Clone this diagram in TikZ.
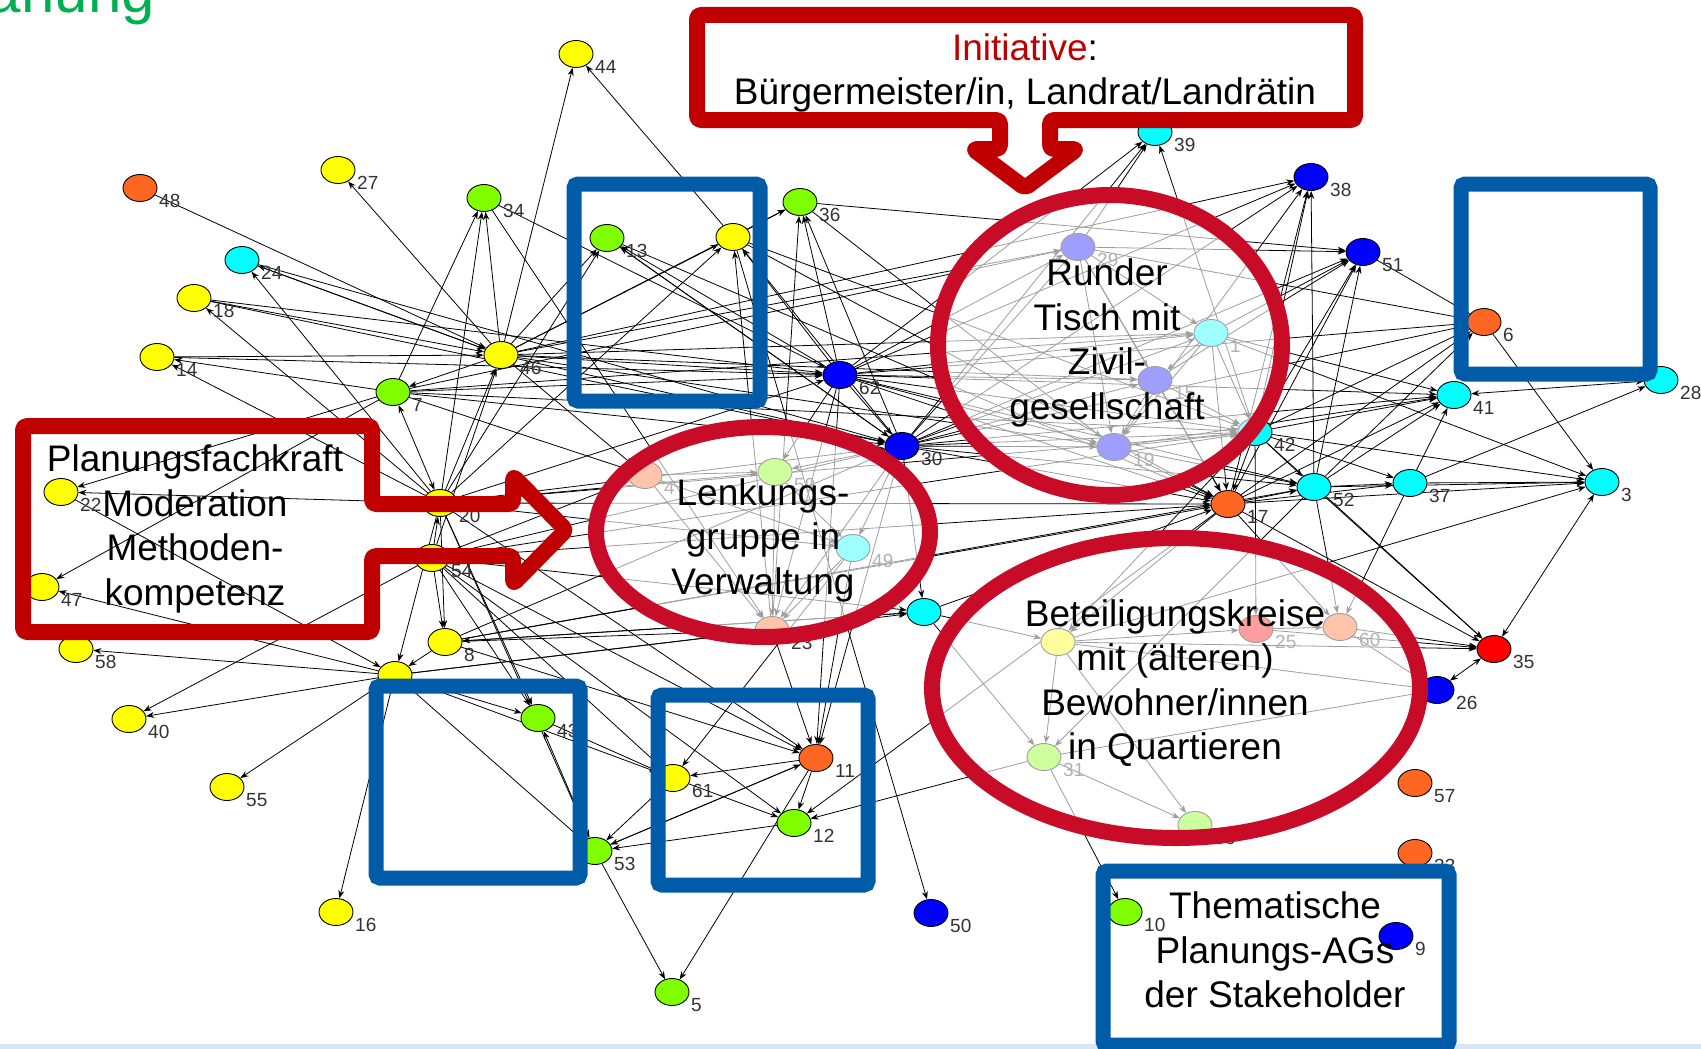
\documentclass[tikz,border=0pt]{standalone}
\usepackage{fontspec}
\setmainfont{Liberation Sans}
\usetikzlibrary{shapes.geometric,arrows.meta}
\definecolor{nye}{HTML}{FFFF00}
\definecolor{ngr}{HTML}{80FF00}
\definecolor{ncy}{HTML}{00FFFF}
\definecolor{nbl}{HTML}{0000FF}
\definecolor{nor}{HTML}{FF6622}
\definecolor{nre}{HTML}{FF0000}
\definecolor{boxred}{HTML}{C00000}
\definecolor{ellred}{RGB}{200,12,40}
\definecolor{boxblue}{HTML}{005BA8}
\definecolor{titgreen}{HTML}{00B050}
\definecolor{lblgray}{HTML}{333333}
\definecolor{bandblue}{RGB}{214,232,246}
\pgfdeclarelayer{bg}
\pgfdeclarelayer{edges}
\pgfsetlayers{bg,edges,main}
\newcommand\netnode[5]{\node[nd,fill=#4] (n#1) at (#2,#3) {};\node[lbl] (l#1) at (#2+19,#3+13) {#5};}
\begin{document}
\begin{tikzpicture}[x=1pt,y=-1pt,
  nd/.style={ellipse,draw=black,line width=0.9pt,minimum width=34pt,minimum height=27pt,inner sep=0pt},
  lbl/.style={anchor=west,inner sep=0pt,font=\fontsize{19}{19}\selectfont,text=lblgray},
  lnk/.style={-{Stealth[length=8pt,width=6pt]},line width=0.8pt,black},
  lnkb/.style={{Stealth[length=8pt,width=6pt]}-{Stealth[length=8pt,width=6pt]},line width=0.8pt,black},
  ovl/.style={line width=16pt,draw=ellred,fill=white,fill opacity=0.62},
  bluebox/.style={draw=boxblue,line width=15pt,rounded corners=4pt},
  redbox/.style={draw=boxred,line width=16pt,rounded corners=4pt,line join=round},
  bigtxt/.style={align=center,inner sep=0pt,font=\fontsize{37}{44.5}\selectfont}]
\useasboundingbox (0,0) rectangle (1701,1049);
\begin{pgfonlayer}{bg}
\fill[white] (0,0) rectangle (1701,1049);
\fill[bandblue] (0,1044) rectangle (1701,1049);
\begin{scope}
\clip (0,0) rectangle (1701,1049);
\node[anchor=base east,inner sep=0pt,text=titgreen,font=\fontsize{60}{62}\selectfont] (title) at (155,13) {Planung};
\end{scope}
\end{pgfonlayer}
% nodes
\netnode{48}{140}{188}{nor}{48}
\netnode{27}{338}{170}{nye}{27}
\netnode{24}{242}{260}{ncy}{24}
\netnode{18}{194}{298}{nye}{18}
\netnode{14}{157}{357}{nye}{14}
\netnode{44}{576}{54}{nye}{44}
\netnode{34}{484}{198}{ngr}{34}
\netnode{13}{607}{238}{ngr}{13}
\netnode{Y}{733}{237}{nye}{}
\netnode{36}{800}{202}{ngr}{36}
\netnode{46}{501}{355}{nye}{46}
\netnode{7}{393}{392}{ngr}{7}
\netnode{22}{61}{492}{nye}{22}
\netnode{47}{42}{587}{nye}{47}
\netnode{58}{76}{649}{nye}{58}
\netnode{20}{440}{503}{nye}{20}
\netnode{54}{432}{558}{nye}{54}
\netnode{8}{445}{642}{nye}{8}
\netnode{21}{395}{675}{nye}{}
\netnode{40}{129}{719}{nye}{40}
\netnode{55}{227}{787}{nye}{55}
\netnode{16}{336}{912}{nye}{16}
\netnode{43}{538}{718}{ngr}{43}
\netnode{62}{840}{375}{nbl}{62}
\netnode{4}{645}{475}{nor}{4}
\netnode{59}{775}{472}{ngr}{59}
\netnode{49}{853}{548}{ncy}{49}
\netnode{23}{772}{630}{nor}{23}
\netnode{29}{1078}{247}{nbl}{29}
\netnode{1}{1211}{333}{ncy}{1}
\netnode{15}{1155}{380}{nbl}{15}
\netnode{19}{1114}{447}{nbl}{19}
\netnode{30}{902}{446}{nbl}{30}
\netnode{42}{1255}{432}{ncy}{42}
\netnode{17}{1228}{504}{nor}{17}
\netnode{C}{924}{612}{ncy}{}
\netnode{B}{1058}{642}{nye}{}
\netnode{25}{1256}{629}{nre}{25}
\netnode{60}{1340}{627}{nor}{60}
\netnode{31}{1044}{757}{ngr}{31}
\netnode{X}{1195}{825}{ngr}{56}
\netnode{10}{1125}{912}{ngr}{10}
\netnode{9}{1396}{936}{nbl}{9}
\netnode{57}{1415}{783}{nor}{57}
\netnode{32}{1415}{853}{nor}{33}
\netnode{41}{1454}{395}{ncy}{41}
\netnode{28}{1661}{380}{ncy}{28}
\netnode{52}{1314}{487}{ncy}{52}
\netnode{37}{1410}{483}{ncy}{37}
\netnode{3}{1602}{482}{ncy}{3}
\netnode{35}{1494}{649}{nre}{35}
\netnode{26}{1437}{690}{nbl}{26}
\netnode{39}{1155}{132}{ncy}{39}
\netnode{38}{1311}{177}{nbl}{38}
\netnode{51}{1363}{252}{nbl}{51}
\netnode{6}{1484}{322}{nor}{6}
\netnode{61}{673}{778}{nye}{61}
\netnode{11}{816}{758}{nor}{11}
\netnode{12}{794}{823}{ngr}{12}
\netnode{53}{595}{851}{ngr}{53}
\netnode{5}{672}{992}{ngr}{5}
\netnode{50}{931}{913}{nbl}{50}
% edges
\begin{pgfonlayer}{edges}
\foreach \a/\b in {46/44, Y/44, 46/27, 48/46, 24/46, 46/24, 18/46, 14/46, 46/34, 20/34, 46/13, 20/13, 46/Y, 20/Y, 46/36, Y/36, 46/62, 46/7, 20/46, 54/46, 46/30, 46/1, 46/15, 46/29, 46/38,
 20/24, 20/18, 18/30, 20/14, 7/14, 20/22, 7/22, 22/21, 7/47, 21/47, 21/58, 21/40, 54/40, 21/55, 21/16,
 7/62, 7/30, 7/29, 7/1, 7/42, 7/34,
 54/20, 20/8, 54/8, 8/21, 20/21,
 20/43, 54/43, 21/43, 20/53,
 43/61, 21/61, 54/61,  21/53,
 54/11, 20/11, 8/11, 54/12,
 20/30, 54/30, 8/30, 20/17, 8/17, 8/52, 54/42, 20/62, 46/19, 14/62, 18/62, 24/30, 20/42, 54/17,
 8/C, 54/C, C/8, 20/59, 54/4, 8/23, 21/23, 20/49, 21/C, 7/4, 46/4,
 62/36, 30/36, 62/13, 30/13, 62/Y, 30/Y, 23/Y, 23/36, 36/51, 36/19, 13/17, Y/17, 34/62, 34/23, 13/30, Y/42,
 62/39, 30/39, 42/39, 29/39,
 30/38, 19/38, 17/38, 52/38, 42/38, 62/38,
 29/51, 30/51, 42/51, 52/51, 17/51, 1/51, 15/51, 51/6,
 29/6, 42/6, 52/6, 17/6, 30/6, 62/6, 6/3,
 30/41, 17/41, 42/41, 19/41, 52/41, 1/41, 37/28, 62/41,
 52/3, 37/3, 42/3, 17/3, 1/3, B/3,
 52/35, 42/35, 17/35, 60/35, 25/35, B/35,
 42/52, 17/52, 30/52, 62/52, 52/37, 17/37, 42/37, 37/41, 37/60, 52/60, 17/60, 42/25,
 1/17, 15/17, 19/17, 29/17, 42/17, 30/17, 62/17,
 30/29, 30/19, 30/42, 30/1, 30/15, 62/29, 62/1, 62/15, 62/19, 62/42, 62/30,
 62/11, 23/11, 49/11, 30/11, 49/61, 11/61, 11/12, 61/12, 12/53, 11/53, 53/11, 11/5, 53/5, 17/12, 31/12, Y/50, 31/10,
 62/23, 30/23, 30/49, 62/59, 30/59,
 4/59, 59/49, 4/49, 59/23, 49/23, 4/23,
 29/1, 29/15, 1/15, 15/19, 1/19, 29/19, 1/42, 15/42, 19/42, 19/52,
 C/17, C/31, C/B, 30/C,
 B/31, B/25, 25/60, 31/X, B/X, 31/26, B/26, 60/26, 17/B, 42/B, 52/31}
 \draw[lnk] (n\a) -- (n\b);
\foreach \a/\b in {3/35, 35/26, 61/53, 53/43, 41/28, 7/20}
 \draw[lnkb] (n\a) -- (n\b);
\end{pgfonlayer}
% translucent ellipses
\coordinate (eRT) at (1110,345);
\coordinate (eLG) at (763,532);
\coordinate (eBK) at (1176,688);
\draw[ovl] (eRT) ellipse [x radius=172pt, y radius=150pt];
\draw[ovl] (eLG) ellipse [x radius=167pt, y radius=105pt];
\draw[ovl] (eBK) ellipse [x radius=244pt, y radius=150pt];
% blue boxes
\draw[bluebox] (574,184) rectangle (760,401);
\draw[bluebox] (1461,184) rectangle (1650,374);
\draw[bluebox] (376,686) rectangle (580,878);
\draw[bluebox] (658,695) rectangle (868,885);
\draw[bluebox] (1103,871) rectangle (1449,1045);
% red boxes with arrows
\draw[redbox,fill=white] (697,15) -- (1355,15) -- (1355,120) -- (1050,120) -- (1050,149) -- (1077,149) -- (1025,188) -- (973,149) -- (1000,149) -- (1000,120) -- (697,120) -- cycle;
\draw[redbox] (23,426) -- (372,426) -- (372,504) -- (513,504) -- (513,476) -- (566,530) -- (513,584) -- (513,556) -- (372,556) -- (372,632) -- (23,632) -- cycle;
% texts
\node[bigtxt] (tInit) at (1025,73) {\textcolor{boxred}{Initiative}:\\Bürgermeister/in, Landrat/Landrätin};
\node[bigtxt] (tPlan) at (195,529) {Planungsfachkraft\\Moderation\\Methoden-\\kompetenz};
\node[bigtxt] (tRT) at (1107,343) {Runder\\Tisch mit\\Zivil-\\gesellschaft};
\node[bigtxt] (tLG) at (763,540) {Lenkungs-\\gruppe in\\Verwaltung};
\node[bigtxt] (tBK) at (1175,683) {Beteiligungskreise\\mit (älteren)\\Bewohner/innen\\in Quartieren};
\node[bigtxt] (tTh) at (1275,950) {Thematische\\Planungs-AGs\\der Stakeholder};
\end{tikzpicture}
\end{document}
